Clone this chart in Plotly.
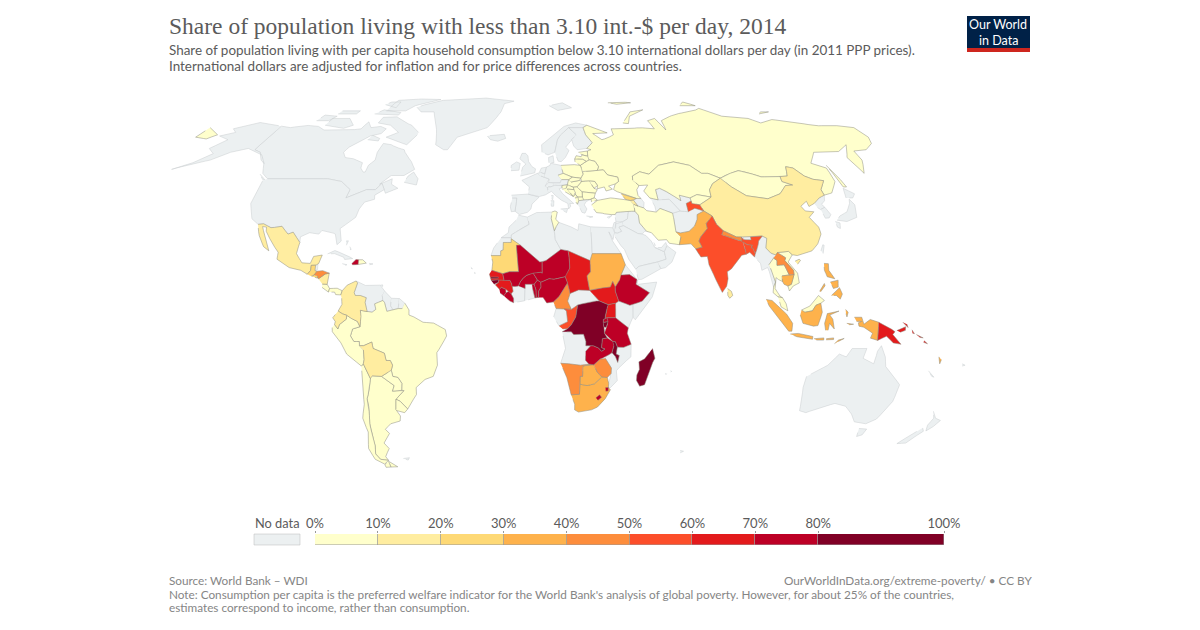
import plotly.graph_objects as go

# countries with a value, share below 3.10 int.-$ per day (read off the map colours, so estimates)
countries = ["Russia", "Kazakhstan", "Kyrgyzstan", "Mongolia", "Ukraine", "Belarus", "Poland", "Romania", "Bulgaria", "Moldova",
             "Estonia", "Latvia", "Lithuania", "Hungary", "Slovakia", "Czechia", "Serbia", "Croatia", "Bosnia", "Slovenia",
             "Montenegro", "Macedonia", "Albania", "Turkey", "Iran", "Brazil", "Argentina", "Chile", "Peru", "Uruguay",
             "Paraguay", "Costa Rica", "Panama", "Dominican Rep", "Tunisia", "Thailand", "Malaysia", "Vietnam",
             "Mexico", "Colombia", "Ecuador", "Bolivia", "China", "Sri Lanka", "Armenia", "Nicaragua",
             "Mauritania", "El Salvador", "Georgia", "Guatemala",
             "Pakistan", "Sudan", "South Africa", "Botswana", "Indonesia", "Philippines", "Cambodia", "Vanuatu", "Timor",
             "Namibia", "Zimbabwe", "Cameroon", "Laos", "Honduras", "Nepal",
             "India", "Bangladesh", "Congo",
             "Chad", "South Sudan", "Guinea", "Senegal", "Papua New Guinea", "Uganda", "Tajikistan", "Solomon Islands",
             "Mali", "Niger", "Burkina Faso", "Benin", "Togo", "Nigeria", "Ethiopia", "Tanzania", "Zambia", "Liberia",
             "Sierra Leone", "Haiti", "Lesotho", "Swaziland", "Rwanda",
             "DR Congo", "Madagascar", "Malawi", "Burundi", "Gambia", "Guinea-Bissau"]
share = [1, 3, 8, 5, 1, 1, 1, 7, 6, 4,
         1, 2, 2, 2, 2, 1, 2, 1, 1, 1,
         2, 8, 8, 4, 5, 8, 3, 2, 9, 2,
         7, 4, 8, 8, 8, 2, 2, 9,
         12, 15, 11, 13, 19, 14, 15, 19,
         25, 21, 28, 28,
         36, 37, 35, 36, 36, 37, 39, 38, 35,
         43, 44, 45, 46, 42, 48,
         58, 56, 55,
         64, 65, 66, 62, 63, 66, 58, 65,
         78, 74, 75, 75, 72, 77, 72, 76, 75, 78,
         74, 71, 78, 72, 78,
         90, 91, 88, 86, 84, 82]

bin_edges = [0, 10, 20, 30, 40, 50, 60, 70, 80, 100]
bin_colors = ["#ffffcc", "#ffeda0", "#fed976", "#feb24c", "#fd8d3c", "#fc4e2a", "#e31a1c", "#bd0026", "#800026"]
bin_labels = ["0%", "10%", "20%", "30%", "40%", "50%", "60%", "70%", "80%", "100%"]
no_data_color = "#ecf0f1"

title = "Share of population living with less than 3.10 int.-$ per day, 2014"
subtitle = ["Share of population living with per capita household consumption below 3.10 international dollars per day (in 2011 PPP prices).",
            "International dollars are adjusted for inflation and for price differences across countries."]
source = "Source: World Bank – WDI"
link = "OurWorldInData.org/extreme-poverty/ • CC BY"
note = ["Note: Consumption per capita is the preferred welfare indicator for the World Bank's analysis of global poverty. However, for about 25% of the countries,",
        "estimates correspond to income, rather than consumption."]

# Robinson table, every 5 degrees of latitude
rob_len = [1, 0.9986, 0.9954, 0.99, 0.9822, 0.973, 0.96, 0.9427, 0.9216, 0.8962, 0.8679, 0.835, 0.7986, 0.7597, 0.7186, 0.6732, 0.6213, 0.5722, 0.5322]
rob_dfe = [0, 0.062, 0.124, 0.186, 0.248, 0.31, 0.372, 0.434, 0.4958, 0.5571, 0.6176, 0.6769, 0.7346, 0.7903, 0.8435, 0.8936, 0.9394, 0.9761, 1]

# rough hand traced outlines, lon,lat
outlines = {
    "Canada": ["-141,69.6 -135,69 -128,70 -120,69.5 -115,68 -108,68 -100,68 -95,68.5 -94,71.5 -90,69 -85,69.5 -81,68.5 -82,66.5 -87,65.5 -90,63.5 -94,61 -95,59 -92.5,57 -88,56.5 -82.5,55 -82,53 -80,51.5 -79,51.5 -79,54 -77,56 -78,59 -77.5,62.5 -73,62 -70,61 -65,60 -64,59 -62,57.5 -59,55.5 -56,52.5 -60,50.2 -66,50.2 -70,47 -65,49 -64.5,47 -61,45.5 -66,43.7 -67,45 -69,47.3 -71,45 -75,45 -79,43.5 -83,42 -82.5,45 -88,48 -95,49 -123,49 -127,51 -130,54.5 -133,56.5 -137,59 -141,60",
               "-62,66 -65,62 -72,63.5 -78,65 -73,67 -80,70 -88,71 -88,73.5 -80,73.7 -72,71 -68,70 -62,67",
               "-117,70 -105,68.7 -101,70 -107,73 -117,73", "-90,76.5 -78,76.5 -75,79 -62,82.5 -72,83 -90,82",
               "-125,72 -118,72 -116,74 -124,74.5", "-95,75 -80,74.5 -80,75.7 -92,77", "-117,75 -106,75 -106,76.5 -117,76.5",
               "-59,47.7 -53,46.7 -53,49 -56,51.5 -58,50", "-87,64 -81,63.5 -81,64.5 -86,65.8", "-128,50.7 -123.5,48.4 -125,48.7",
               "-95,79.5 -86,78 -87,81 -93,81"],
    "USA": ["-124.7,48.3 -124,43 -124,40 -120.5,34.5 -117,32.5 -114.7,32.7 -111,31.3 -108,31.5 -106.5,31.8 -103,29 -101,29.7 -97.2,26 -97.5,28 -94,29.5 -90,29 -89,30.3 -85,29.7 -83,29 -81.5,25.2 -80,26.5 -81.5,31 -76,35 -75.5,38 -74,40.5 -70,41.5 -70.5,43 -67,45 -69,47.3 -71,45 -75,45 -79,43.5 -83,42 -82.5,45 -88,48 -95,49 -123,49",
            "-141,69.6 -141,60 -137,59 -133,56 -130,54.7 -135,58 -145,60.5 -152,59 -158,56 -165,54.5 -172,52.5 -165,55 -160,58.5 -165,60.5 -161,64 -168,65.5 -162,67 -166,68.5 -156,71.2"],
    "Mexico": ["-117,32.5 -114.7,32.7 -111,31.3 -108,31.5 -106.5,31.8 -103,29 -101,29.7 -97.2,26 -97.8,22 -95,18.7 -91.5,18.5 -90.5,21 -87,21.5 -88,18.5 -89,17.9 -91,17.8 -91,16 -92.2,14.6 -95,16 -100,17 -105.5,20 -105.5,22.5 -109,26 -112.5,30 -113,31.5 -114.7,31.7 -112,27.5 -109.5,23 -112,24.5 -115,28.5"],
    "Guatemala": ["-92.2,14.6 -91,16 -91,17.8 -89.2,17.8 -89.2,15.9 -88.3,15.7 -89.3,14.4 -90.5,13.9"],
    "Belize": ["-89.2,17.9 -88.3,18.4 -88.2,16.3 -89.2,15.9"],
    "El Salvador": ["-90.1,13.8 -89.3,14.4 -87.8,13.9 -87.8,13.2"],
    "Honduras": ["-89.3,14.4 -88.3,15.7 -86,15.9 -83.2,15 -84.8,14.7 -87.4,13 -87.8,13.4 -87.8,13.9"],
    "Nicaragua": ["-87.5,13 -84.8,14.7 -83.2,15 -83.7,11 -85.7,11.1"],
    "Costa Rica": ["-85.7,11.1 -83.7,11 -82.6,9.5 -83,8.2 -85.7,9.9"],
    "Panama": ["-83,8.2 -82.6,9.5 -79.5,9.6 -77.4,8.7 -77.9,7.2 -80,7.3 -80.5,8.2"],
    "Cuba": ["-84.9,21.9 -82,23.1 -77,21.5 -74.2,20.2 -77.5,19.9 -78,20.7 -82,22"],
    "Jamaica": ["-78.3,18.4 -76.3,18 -77,17.8"],
    "Haiti": ["-74.4,18.4 -72.8,19.9 -71.7,19.8 -71.7,18.1 -74,18"],
    "Dominican Rep": ["-71.7,19.8 -70,19.8 -68.4,18.6 -71,18 -71.7,18.1"],
    "Puerto Rico": ["-67.2,18.5 -65.6,18.3 -67,18"],
    "Bahamas": ["-78,26.5 -77,26.6 -77.5,25", "-76,24.5 -75.3,23.5 -75.8,23.4"],
    "Trinidad": ["-61.9,10.7 -61,10.8 -61,10.1"],
    "Colombia": ["-77.9,7.2 -77.4,8.7 -75.5,10.7 -72,12.2 -71.3,11.5 -72.5,8 -72,7 -70,7 -67.5,6.2 -67.9,4.5 -67,1.2 -69.8,1.7 -69.5,-0.5 -70,-4.2 -71,-2.3 -73.5,-1.2 -75.3,-0.1 -77,0.4 -78.8,1.4 -77.3,3.8 -77.5,6"],
    "Venezuela": ["-72,12.2 -68,10.6 -62,10.7 -60,8.5 -61,7 -60.7,5.2 -64,4 -63.5,2 -65,1 -67,1.2 -67.9,4.5 -67.5,6.2 -70,7 -72,7 -72.5,8 -71.3,11.5"],
    "Guyana": ["-60,8.5 -57.2,6 -57.5,3.3 -56.5,1.9 -59,1.3 -60,4.5 -60.7,5.2 -61,7"],
    "Suriname": ["-57.2,6 -54,5.9 -54.4,2.3 -56.5,1.9 -57.5,3.3"],
    "French Guiana": ["-54,5.9 -51.7,4.2 -52.7,2.3 -54.4,2.3"],
    "Ecuador": ["-78.8,1.4 -77,0.4 -75.3,-0.1 -75.5,-1.5 -78.3,-3.4 -79,-5 -80.3,-3.4 -80,-2.3 -81,-1"],
    "Peru": ["-80.3,-3.4 -79,-5 -78.3,-3.4 -75.5,-1.5 -75.3,-0.1 -73.5,-1.2 -71,-2.3 -70,-4.2 -73,-5 -74,-7.5 -72.7,-9.5 -70.5,-9.5 -70.5,-11 -69,-12.5 -69,-16 -69.5,-17.5 -70.4,-18.3 -76,-14 -78,-10 -81.3,-6 -81.3,-4.5"],
    "Bolivia": ["-70.5,-11 -68.8,-11 -65.4,-9.7 -65,-12 -60.5,-13.7 -60,-16.3 -58.3,-16.3 -57.5,-18 -58.2,-19.8 -62.5,-22 -66.3,-21.8 -67.2,-22.8 -68.5,-20 -69.5,-17.5 -69,-16 -69,-12.5"],
    "Paraguay": ["-58.2,-19.8 -57.8,-22 -55.7,-22.4 -54.3,-24.5 -54.7,-27 -58.6,-27.3 -57.6,-25.3 -62.5,-22"],
    "Uruguay": ["-58.4,-33.9 -57.6,-30.2 -56,-30.9 -53.3,-33.7 -54.9,-35 -58.4,-34.2"],
    "Argentina": ["-66.3,-21.8 -62.5,-22 -57.6,-25.3 -58.6,-27.3 -54.7,-27 -53.8,-27.1 -57.6,-30.2 -58.4,-33.9 -57,-36.2 -57.6,-38 -62,-39 -65,-41 -63.7,-42.5 -67.5,-46 -66,-48 -69,-51 -68.4,-52.4 -72,-52 -73.2,-50 -72,-47 -71.7,-44 -71.2,-39 -70.4,-36 -69.8,-33 -69.8,-30 -68.3,-27 -67.2,-22.8",
                  "-68.6,-52.7 -65.2,-54.8 -68.6,-54.9"],
    "Chile": ["-70.4,-18.3 -69.5,-17.5 -68.5,-20 -67.2,-22.8 -68.3,-27 -69.8,-30 -69.8,-33 -70.4,-36 -71.2,-39 -71.7,-44 -72,-47 -73.2,-50 -72,-52 -68.4,-52.4 -71,-53.8 -74.5,-52 -75.5,-48 -73,-42 -73.6,-37 -71.5,-32 -70.5,-25",
              "-68.6,-52.7 -68.6,-54.9 -71,-55 -71,-54"],
    "Brazil": ["-51.7,4.2 -50,1.8 -50,0 -48,-0.7 -44.3,-2.6 -40,-2.9 -35.3,-5.2 -34.8,-7.5 -37,-11 -39,-13.5 -39,-18 -41,-22 -44.5,-23.1 -48.5,-26 -48.7,-28.5 -53.3,-33.7 -56,-30.9 -57.6,-30.2 -53.8,-27.1 -54.7,-27 -54.3,-24.5 -55.7,-22.4 -57.8,-22 -58.2,-19.8 -57.5,-18 -58.3,-16.3 -60,-16.3 -60.5,-13.7 -65,-12 -65.4,-9.7 -68.8,-11 -70.5,-11 -70.5,-9.5 -72.7,-9.5 -74,-7.5 -73,-5 -70,-4.2 -69.5,-0.5 -69.8,1.7 -67,1.2 -65,1 -63.5,2 -64,4 -60.7,5.2 -60,4.5 -59,1.3 -56.5,1.9 -54.4,2.3 -52.7,2.3"],
    "Falklands": ["-61,-51.7 -58,-51.4 -59,-52.3"],
    "Greenland": ["-73,78.2 -68,76 -60,76 -54,70 -51,65 -50,62 -45,60 -43,60 -40,65 -25,69 -22,72 -19,76 -18,80 -12,81.5 -30,83.5 -45,82.5 -60,82 -68,80"],
    "Iceland": ["-24,65.5 -22,64 -18,63.4 -14,64.5 -15,66.2 -20,66"],
    "UK": ["-5.5,50 1.3,51.2 1.7,52.7 0,53.5 -1.7,55.5 -2,57.6 -3.2,58.6 -5,58.6 -6,56.5 -3,54.5 -4.5,53.3 -5,51.7"],
    "Ireland": ["-10,52 -6.2,52.2 -6,53.5 -5.7,54.7 -7.5,55.3 -10,54"],
    "Spain": ["-9.2,43 -1.8,43.4 3.2,42.3 0,39.8 -0.5,38 -2,36.8 -5.5,36 -7.4,37.2 -7,39.5 -6.8,41.9 -8.8,41.9"],
    "Portugal": ["-8.8,41.9 -6.8,41.9 -7,39.5 -7.4,37.2 -9,37 -9.5,38.8"],
    "France": ["-1.8,43.4 3.2,42.5 6,43.1 7.5,43.8 7,45.9 6,46.3 8,48.9 6,49.5 4.2,50 2.5,51 -1.5,49.5 -4.7,48.4 -1.2,46", "8.6,42.9 9.5,42.9 9.2,41.4 8.7,41.6"],
    "Belgium": ["2.5,51 4.2,51.4 6,50.7 6,49.5 4.2,50"],
    "Netherlands": ["3.5,51.4 4.5,53 7,53.3 6,50.8 4.2,51.4"],
    "Germany": ["6,50.7 7,53.4 8.7,54 9,54.8 14,54 14.7,51 12.2,50.3 13.7,48.7 13,47.5 9.6,47.5 7.6,47.6 8,48.9 6,49.5"],
    "Denmark": ["8.2,55 8.2,57 10.5,57.7 10.7,55"],
    "Switzerland": ["6,46.3 7.6,47.6 9.6,47.5 10.4,46.6 8.5,46"],
    "Austria": ["9.6,47.5 13,47.5 13.7,48.7 17,48.7 16.2,46.8 13.7,46.5 10.4,46.6"],
    "Italy": ["7.5,43.8 8.8,44.4 10.5,42.9 13,41.2 15.8,40 16,38 17,39 16.7,40 18.4,40 16,41.7 13.7,43.6 12.3,45.3 13.7,45.7 13.7,46.5 10.4,46.6 8.5,46 7,45.9",
              "12.5,38 15.6,38.2 15,36.7", "8.3,41 9.7,41 9.5,39 8.5,39"],
    "Norway": ["5,59 5,62 12,66 18,69.5 25,71 31,70 28.5,69 25,69 20.5,69 15.5,66 13.5,64 12.2,61 11.5,59 8,58", "11,79 16,76.7 25,78 20,80.5"],
    "Sweden": ["11.5,59 12.2,61 13.5,64 15.5,66 20.5,69 24,66 21,64 17.3,61 18.8,59.7 16.5,57 14.3,55.4 12.8,55.6"],
    "Finland": ["24,66 20.5,69 25,69 28.5,69 29,66 31.5,62.8 28,60.5 23,60 21.5,61.5 21,64"],
    "Poland": ["14,54 19,54.4 23.3,54 24,51.7 24,50.7 22.7,49.2 18.8,49.6 14.7,51"],
    "Czechia": ["12.2,50.3 14.7,51 18.8,49.6 17,48.7 13.7,48.7"],
    "Slovakia": ["17,48.7 18.8,49.6 22.7,49.2 22,48.4 18,47.8"],
    "Hungary": ["16.2,46.8 17,48.7 18,47.8 22,48.4 22.9,48 20.5,46 18.8,45.9"],
    "Slovenia": ["13.7,45.5 13.7,46.5 16.2,46.8 15.5,45.5"],
    "Croatia": ["13.7,45.2 15.5,45.5 16.2,46.8 18.8,45.9 19,45 16,45.2 18.5,42.5 15,44.2"],
    "Bosnia": ["16,45.2 19,45 19.5,44 18.5,42.5"],
    "Serbia": ["19,45 18.8,45.9 20.5,46 22.6,44.2 22.5,42.3 20.5,42.3 19.5,43.3 19.5,44"],
    "Montenegro": ["18.5,42.5 19.5,43.3 20.1,42.6 19.3,41.9"],
    "Macedonia": ["20.5,42.3 22.5,42.3 23,41.3 20.7,41"],
    "Albania": ["19.3,41.9 20.5,42.3 20.7,41 20,39.7 19.4,40.5"],
    "Greece": ["20,39.7 20.7,41 23,41.3 26.3,41.5 24,40.7 23,39.5 24,38 23,36.5 21.7,36.8 21,38.3", "23.5,35.5 26.3,35.2 24.8,34.9"],
    "Bulgaria": ["22.5,42.3 22.6,44.2 28.5,43.7 27.7,42 26.3,41.5 23,41.3"],
    "Romania": ["20.5,46 22.9,48 26.6,48.2 28.2,45.5 29.6,45 28.5,43.7 22.6,44.2"],
    "Moldova": ["26.6,48.2 29,48 30,46.5 28.2,45.5"],
    "Ukraine": ["24,51.7 24,50.7 22.7,49.2 22.9,48 26.6,48.2 29,48 30,46.5 29.6,45.3 33,46 33.5,44.5 36.5,45.2 35,46.3 38.2,47.1 40,48 40,49.6 35.5,50.4 34,52.3 31,52.1"],
    "Belarus": ["24,51.7 31,52.1 32,53.5 30.8,55.5 28,56.1 26.5,55.5 23.3,54"],
    "Lithuania": ["21,55.3 21,56.4 25,56.3 26.5,55.5 23.3,54"],
    "Latvia": ["21,56.4 22,57.7 24.4,57.3 25,58 27.7,57.5 28,56.1 26.5,55.5 25,56.3"],
    "Estonia": ["23.4,59 28,59.5 27.7,57.5 25,58 24.4,58.3"],
    "Turkey": ["26.2,39.5 29,41.1 35,42 41.5,41.5 43.6,41.1 44.8,39.7 44.8,37.2 42,37.2 36.7,36.8 36,36 32.5,36 30.5,36.5 28,36.7 27,38", "26.3,40.5 26.3,41.7 28,42 29,41.2"],
    "Georgia": ["40,43.5 43.6,42.7 46.5,41.8 45,41.3 43.6,41.1 41.5,41.5"],
    "Armenia": ["43.6,41.1 45,41.3 46.5,39 44.8,39.7"],
    "Azerbaijan": ["45,41.3 46.5,41.8 48.5,41.8 49.5,40.3 48.9,38.4 46.5,39"],
    "Cyprus": ["32.3,35 34.6,35.7 33,34.6"],
    "Syria": ["36,36 36.7,36.8 42,37.2 41,34.4 38.8,33.4 36,33.3 35.9,35"],
    "Israel": ["34.3,31.3 35.1,33.1 36,33.3 35.8,32.7 35.5,31 34.9,29.5"],
    "Jordan": ["35.5,31 35.8,32.7 38.8,33.4 39,32 37,31.5 38,30 36,29.3 34.9,29.5"],
    "Iraq": ["38.8,33.4 41,34.4 42,37.2 44.8,37.2 46,35.8 46,33 48.5,30 47.7,30 46.5,29 44.7,29.2 39,32"],
    "Saudi Arabia": ["34.9,29.5 36,29.3 38,30 37,31.5 39,32 44.7,29.2 46.5,29 48,28.5 50,26.5 51.2,24.2 55,22.7 55.5,20 52,19 49,18.5 44,17.4 43,16.7 42.7,16.4 40,20 38.5,23.5 37,25 35,28"],
    "Yemen": ["42.7,16.4 43,16.7 44,17.4 49,18.5 52,19 53,16.6 45,12.8 43.5,12.7"],
    "Oman": ["52,19 55.5,20 55,22.7 56.3,24.9 59.8,22.5 57.8,19 55,17 53,16.6"],
    "UAE": ["51.2,24.2 55,22.7 56.3,24.9 56,26 54,24.2"],
    "Qatar": ["51,26 51.5,25 51,24.6"],
    "Iran": ["44.8,39.7 46.5,39 48.9,38.4 50,37.4 54,36.9 56,38.2 61,36.5 61,31.5 60.9,29.8 62.7,28 61.6,25.2 57.5,25.7 56.5,27 53,26.8 50.5,29.5 48.5,30 46,33 46,35.8 44.8,37.2"],
    "Afghanistan": ["61,36.5 64.5,37.3 68,37 71.2,38.3 74.8,37.3 71.5,36 71,34.3 69.3,31.9 66.5,30 62.7,29.4 60.9,29.8 61,31.5"],
    "Pakistan": ["60.9,29.8 62.7,29.4 66.5,30 69.3,31.9 71,34.3 71.5,36 74.8,37.3 77.8,35.5 74.5,32.8 74.5,31 71,28 70,26.5 71,24.3 68.2,23.7 66.5,25.5 61.6,25.2 62.7,28"],
    "India": ["77.8,35.5 78.8,32.5 81,30.2 80,28.8 84,27.4 88,26.4 88.2,27.9 89,27 92,26.9 92,28 97,28.3 95,26.5 94,24 92.7,22 92,24 91.3,24 92,25 90,25.2 88.3,26.2 88.7,24.3 89,21.8 87,21.4 85,19.5 82,16.5 80.2,15.5 80.3,13 79.5,10.3 77.6,8.1 76,11 73,18 72.7,21 70,20.8 69,22.3 68.2,23.7 71,24.3 70,26.5 71,28 74.5,31 74.5,32.8"],
    "Bangladesh": ["88.3,26.2 90,25.2 92,25 91.3,24 92,24 92.7,22 92.2,20.8 90.5,22.5 89,21.8 88.7,24.3"],
    "Nepal": ["80,28.8 81,30.2 86,28 88.2,27.9 88,26.4 84,27.4"],
    "Bhutan": ["89,27 89,28 92,28 92,26.9"],
    "Sri Lanka": ["79.8,9.5 81.3,8.5 81.8,7 80.5,6 79.8,7"],
    "China": ["73.8,39.5 76,40.4 80,42.3 80.5,45 83,47.2 87.7,49.2 91,46 96,42.8 105,41.7 111.5,43.5 116,46.5 119.5,46.7 115.5,48 116,49.8 119.5,50 122,53.5 125,53 127.5,50 130.5,48.8 135,48.3 131,45 131,43 128,42 124.4,40 121.5,38.9 121.5,40.8 118,39 119,37.3 122.6,37 119.5,35 122,31.5 122,29 119.5,25.5 116.5,23 113.5,22.2 110,21.3 108,21.6 106.7,22.8 102,22.4 101.2,21.5 99.2,22.2 97.5,24 98.7,27.5 97,28.3 92,28 89,28 88.2,27.9 86,28 81,30.2 78.8,32.5 77.8,35.5 74.8,37.3",
              "108.7,19.3 110.5,20 111,19.6 109.6,18.2"],
    "Taiwan": ["120.2,23 121.5,25.2 122,25 120.9,22"],
    "Mongolia": ["87.7,49.2 92,50.7 98,52 102,51.3 107,49.7 113,49.7 116,49.8 115.5,48 119.5,46.7 116,46.5 111.5,43.5 105,41.7 96,42.8 91,46"],
    "Kazakhstan": ["46.7,48.5 47,50 51,51.6 55,50.7 61,54 69,55.3 76,54 80,51 83,51 87.7,49.2 83,47.2 80.5,45 80,42.3 74,43.2 70.5,42 66,43 66,41 62,43.7 58,45.5 56,45 56,41.3 52.5,42 50.5,44.5 53,46.7 49,46.5"],
    "Kyrgyzstan": ["70.5,40 70.5,42 74,43.2 80,42.3 76,40.4 73.8,39.5"],
    "Tajikistan": ["68,37 68,40 70.5,40.9 70.5,40 73.8,39.5 74.8,37.3 71.2,38.3"],
    "Uzbekistan": ["56,41.3 56,45 58,45.5 62,43.7 66,41 66,43 70.5,42 70.5,40.9 68,40 68,37 64.5,37.3 61,41.5"],
    "Turkmenistan": ["52.8,41.7 52.5,42 56,41.3 61,41.5 64.5,37.3 61,36.5 56,38.2 54,36.9 53.9,39"],
    "Russia": ["27.7,57.5 28,59.5 30,60 28,60.5 31.5,62.8 29,66 28.5,69 31,70 41,66.8 33,66.5 37,64 40,64.6 44,66 44,68.5 54,68.5 60,69 68,68.5 67,72 72,73 74,68 75,72 80,73.5 87,75 100,76.5 105,77.7 113,74 127,73 131,71 140,72.5 150,71.5 160,69.7 170,70 179.9,69 179.9,65 177,62.5 170,60 163,59.5 162,56 156.7,51 156,57 163,62 155,59.3 142,59 135.5,54.8 141,53 140,48 135,43.8 131,43 131,45 135,48.3 130.5,48.8 127.5,50 125,53 122,53.5 119.5,50 116,49.8 113,49.7 107,49.7 102,51.3 98,52 92,50.7 87.7,49.2 83,51 80,51 76,54 69,55.3 61,54 55,50.7 51,51.6 47,50 46.7,48.5 49,46.5 47.5,45 47.5,42.9 48.5,41.8 46.5,41.8 43.6,42.7 40,43.5 37,45 38.2,47.1 40,48 40,49.6 35.5,50.4 34,52.3 31,52.1 32,53.5 30.8,55.5 28,56.1",
               "-179.9,69 -175,67.5 -170,66 -173,64.3 -179.9,65", "142,54 143,50 143.5,46 142,46 142,50", "52,71 55,70.7 58,74 69,77 60,76", "137,75 145,76 140,76",
               "50,80.5 60,81 65,80.5 55,79.7", "95,79 105,79 100,81"],
    "Japan": ["131,34 135,33.5 140,35 142,39.5 141,41.5 140,40 137,37 133,35.5", "130,33.5 131.8,33 131,31 130,31.5", "140,42 141.5,45.5 145,43.5 143,42"],
    "North Korea": ["124.4,40 128,42 131,43 129.7,41 127.5,39.7 128.3,38.6 126,37.8 125,38.5"],
    "South Korea": ["126,37.8 128.3,38.6 129.4,36 128,34.8 126.3,34.7"],
    "Myanmar": ["92.2,20.8 92.7,22 94,24 95,26.5 97,28.3 98.7,27.5 97.5,24 99.2,22.2 101.2,21.5 100,20.4 97.7,18 98.7,15.5 99.6,11.8 98.6,10 98,14 97,17 94.5,16 94.3,18.5"],
    "Thailand": ["97.7,18 100,20.4 101.3,19.5 101,17.8 104,18 105.5,14.4 102.5,14 102.5,12 100.9,12.7 100,13.4 99.2,9.5 101,6.8 102,6.2 100.2,6.5 98.3,8 98.6,10 99.6,11.8 98.7,15.5"],
    "Laos": ["101.2,21.5 102,22.4 105,20.5 104.5,19.5 107.5,16 107.5,14.5 105.5,14.4 104,18 101,17.8 101.3,19.5 100,20.4"],
    "Vietnam": ["102,22.4 106.7,22.8 108,21.6 105.8,19 109,15 109.3,11.5 106.7,10.4 105,8.6 104.5,10.4 106,11 107.5,14.5 107.5,16 104.5,19.5 105,20.5"],
    "Cambodia": ["102.5,14 105.5,14.4 107.5,14.5 106,11 104.5,10.4 103,11 102.5,12"],
    "Malaysia": ["100.2,6.5 102,6.2 103.4,4 104,1.5 101.3,2.9", "109.6,1.8 113,3.2 116.7,7 119,5.2 117.5,4.2 115.5,3.5 114,1.5 111,1"],
    "Indonesia": ["109.6,1.8 111,1 114,1.5 115.5,3.5 117.5,4.2 118,1 116.3,-3.8 114.5,-4 110.2,-3 109,0",
                  "95.3,5.6 97.7,5.2 103.5,0.3 106,-3 105.8,-5.8 104.5,-5.8 100.5,-1.5 96.5,3.2",
                  "105.2,-6.8 108.5,-6.6 114.5,-7.7 114.4,-8.7 108,-7.8",
                  "119.5,-5.5 119,-3 120,0.5 124.8,1.4 121,0 122.3,-1.5 123,-5 121,-3 120.5,-5.5",
                  "115,-8.5 119,-8.2 119,-9 116,-9", "120,-8.5 123,-8.2 123,-8.8 120,-8.9",
                  "128,-3 130.8,-3.3 129,-3.5", "127.5,2 128.5,1 128,-0.7 127.6,0.5",
                  "131,-0.8 134,-0.8 135,-3.3 137.5,-1.6 141,-2.6 141,-9.1 138,-8.3 138.7,-6.5 135,-4.4 133,-4 132.7,-2.8 134,-2.3 132,-2.3"],
    "Timor": ["123.5,-10.3 125,-9 127.3,-8.4 125,-9.5"],
    "Papua New Guinea": ["141,-2.6 145,-4.3 147.8,-6 147,-7 150.7,-10.5 147.5,-10 144.5,-7.6 141,-9.1", "148.5,-5.6 152,-4.2 152,-5.5 150,-6.2", "150.8,-2.6 153,-4.5 152.5,-3.3", "154.6,-5.3 155.8,-6.7 155,-6.5"],
    "Solomon Islands": ["156.6,-7 159.5,-8.2 158,-8", "160,-9.2 161.5,-10.3 159.8,-9.8"],
    "Vanuatu": ["167,-15 167.5,-16.5 168,-17.5 168.3,-16"],
    "New Caledonia": ["164,-20 167,-22.3 166,-22"],
    "Fiji": ["177.3,-17.5 178.6,-18 177.5,-18.3"],
    "Philippines": ["120.5,18.5 122.3,18.4 122,16 124,13 121,13.7 120.2,16", "122,7 125.5,9.8 126.5,7.5 125.5,5.7 124,7", "122,11.8 125.3,12.5 125,10 123,9.5", "117.3,8.5 119.5,11.3 119.7,10.5 117.7,8.3"],
    "Australia": ["114,-22 113.5,-26 115,-34.3 118,-35 124,-33 129,-31.7 134,-32.7 138,-35.5 141,-38.3 146.5,-39 150,-37.3 153.2,-31 153.5,-25 149,-21 146,-18.5 145,-15 142.8,-11 141.5,-13 140.8,-17.5 136,-15.5 137,-12 131,-12 129,-15 126,-14 122,-18", "144.7,-40.7 148.3,-40.9 148,-43 146,-43.6"],
    "New Zealand": ["172.7,-34.5 175.5,-37 178.3,-37.8 176.9,-40 175.2,-41.6 174,-39.5 174.7,-37", "172.7,-40.5 174.2,-41.7 171,-45 170.5,-46 166.7,-46.2 168.5,-44.3"],
    "Morocco": ["-5.9,35.8 -2,35.1 -1.2,32.5 -3.5,31.5 -8.7,28.7 -8.7,27.7 -13,27.7 -10,29.5 -9.8,31.5 -6.8,34"],
    "Western Sahara": ["-13,27.7 -8.7,27.7 -8.7,26 -12,26 -12,23.3 -13,23 -13,21.3 -17,21.3 -16,24"],
    "Algeria": ["-2,35.1 2,36.7 8.6,36.9 8.3,34.5 9.5,30.2 9.8,27 12,23.5 5.8,19.5 3.2,19 -4.8,25 -8.7,27.3 -8.7,28.7 -3.5,31.5 -1.2,32.5"],
    "Tunisia": ["8.6,36.9 10,37.3 11,36.9 10.2,34.3 11.5,33.2 10.3,31.7 9.5,30.2 8.3,34.5"],
    "Libya": ["11.5,33.2 15,32.3 19.5,30.3 20,32.7 25,31.6 25,22 24,19.5 15,23 12,23.5 9.8,27 9.5,30.2 10.3,31.7"],
    "Egypt": ["25,31.6 31,31.5 34.3,31.3 34.9,29.5 34,27 33.5,28 32.5,29.8 33.8,26.5 37,22 25,22"],
    "Mauritania": ["-17,21.3 -13,21.3 -13,23 -12,23.3 -12,26 -8.7,26 -8.7,27.3 -4.8,25 -6.5,25 -5.5,15.5 -9.3,15.5 -12,14.8 -16.5,16 -16.2,19"],
    "Mali": ["-4.8,25 3.2,19 4.2,19.1 4.2,15 3.5,15.3 0.5,15 -2.2,14.2 -3.5,13.3 -4.7,12 -5.5,10.4 -7,10.2 -8.2,10.3 -8.3,11.2 -9,12.4 -11.4,12.4 -12,14.8 -9.3,15.5 -5.5,15.5 -6.5,25"],
    "Senegal": ["-16.5,16 -12,14.8 -11.4,12.4 -13.7,12.6 -16.7,12.4 -17.5,14.7"],
    "Gambia": ["-16.8,13.6 -13.8,13.6 -13.8,13.2 -16.8,13.1"],
    "Guinea-Bissau": ["-16.7,12.4 -13.7,12.6 -13.7,11.7 -15.5,11"],
    "Guinea": ["-13.7,12.6 -11.4,12.4 -9,12.4 -8.3,11.2 -8.2,10.3 -7.7,8.5 -8.5,7.6 -9.5,8.5 -10.7,9.2 -12.5,9.9 -13.3,9.2 -15,10.8 -13.7,11.7"],
    "Sierra Leone": ["-13.3,9.2 -12.5,9.9 -10.7,9.2 -10.6,8 -11.5,6.9 -13,7.9"],
    "Liberia": ["-11.5,6.9 -10.6,8 -9.5,8.5 -8.5,7.6 -7.5,5.9 -7.5,4.4 -9,5"],
    "Cote d'Ivoire": ["-7.5,4.4 -7.5,5.9 -8.5,7.6 -7.7,8.5 -8.2,10.3 -7,10.2 -5.5,10.4 -2.8,9.5 -3,5.1"],
    "Burkina Faso": ["-5.5,10.4 -4.7,12 -3.5,13.3 -2.2,14.2 0.5,15 2.2,12.5 0.9,11 -2.8,11 -2.8,9.5"],
    "Ghana": ["-3,5.1 -2.8,9.5 -2.8,11 0,11 0.5,8 1.2,6.1"],
    "Togo": ["0,11 0.9,11 1.6,9 1.7,6.2 1.2,6.1 0.5,8"],
    "Benin": ["0.9,11 2.2,12.5 3.6,11.7 3.7,10 2.7,8.5 2.7,6.3 1.7,6.2 1.6,9"],
    "Niger": ["0.5,15 3.5,15.3 4.2,15 4.2,19.1 5.8,19.5 12,23.5 15,23 15.5,20 15.5,16.8 13.5,14 13.6,13.7 9,12.8 7,13 3.6,11.7 2.2,12.5"],
    "Nigeria": ["2.7,6.3 2.7,8.5 3.7,10 3.6,11.7 7,13 9,12.8 13.6,13.7 14.5,11.5 12,8 11,6.6 8.7,4.7 6,4.3 4.5,6.3"],
    "Chad": ["15,23 24,19.5 24,15.5 22.5,14 23.5,8.8 19,9 15.5,7.7 15,10 14.5,11.5 13.6,13.7 13.5,14 15.5,16.8 15.5,20"],
    "Cameroon": ["8.7,4.7 11,6.6 12,8 14.5,11.5 15,10 15.5,7.7 14.5,5 16,2 13,2.2 9.8,2.3"],
    "CAR": ["14.5,5 15.5,7.7 19,9 23.5,8.8 27.4,5 25,5 18.6,3.6 16,2"],
    "Sudan": ["24,19.5 25,22 37,22 38.5,18 36.5,14.3 36,12.7 34,10 33,12 32,10 27,9.5 23.5,8.8 22.5,14 24,15.5"],
    "South Sudan": ["23.5,8.8 27,9.5 32,10 33,12 34,10 34,8.5 35.3,5 34,4.2 31,3.7 27.4,5"],
    "Eritrea": ["36.5,14.3 38.5,18 43,12.7 40,14.5"],
    "Djibouti": ["41.8,11 43.3,12.5 43,11"],
    "Ethiopia": ["36.5,14.3 40,14.5 43,12.7 42.5,11 47.9,8 44.9,5 41.8,4 39.8,3.5 35.3,5 34,8.5 34,10 36,12.7"],
    "Somalia": ["43.3,11 51,11.8 49,6.5 42,-1.7 41,-0.8 41,3.7 41.8,4 44.9,5 47.9,8 42.5,11"],
    "Kenya": ["34,4.2 35.3,5 39.8,3.5 41,3.7 41,-0.8 39.2,-4.6 34,-1 34,0.5"],
    "Uganda": ["31,3.7 34,4.2 34,0.5 34,-1 30.5,-1 29.7,-1.3 30,1"],
    "Tanzania": ["30.5,-1 34,-1 39.2,-4.6 38.8,-6.5 39.5,-8 40.5,-10.5 37.5,-11.6 34.9,-11.5 34,-9.6 33,-9.5 29.5,-6.5 30.7,-3.3"],
    "Rwanda": ["29,-1.6 30.5,-1 30.9,-2.4 29,-2.7"],
    "Burundi": ["29,-2.7 30.9,-2.4 30.2,-4.4 29.4,-4.4"],
    "Gabon": ["8.8,-0.7 9.8,2.3 13,2.2 14,1.4 14.5,-2.4 11,-3.9"],
    "Congo": ["11,-3.9 14.5,-2.4 14,1.4 13,2.2 16,2 18.6,3.6 17.8,-0.7 16,-3.5 14.5,-4.9 12.5,-5"],
    "DR Congo": ["12.3,-6 14.5,-4.9 16,-3.5 17.8,-0.7 18.6,3.6 25,5 27.4,5 31,3.7 30,1 29.7,-1.3 29,-1.6 29,-2.7 29.4,-4.4 29.5,-6.5 30.7,-8.2 28.7,-8.5 28.4,-11.7 29.8,-12.2 28.5,-13 27.2,-11.8 25,-11 22,-11 22,-9.5 21,-6.9 17,-7 16,-6"],
    "Angola": ["12.3,-6 16,-6 17,-7 21,-6.9 22,-9.5 22,-11 24,-11 22,-13 22,-16.2 23.4,-17.6 20,-18 13.5,-17.3 11.8,-17.3 13.7,-12 13,-9"],
    "Zambia": ["22,-13 24,-11 25,-11 27.2,-11.8 28.5,-13 29.8,-12.2 28.4,-11.7 28.7,-8.5 30.7,-8.2 33,-9.5 33.5,-11 32.8,-13.5 30.2,-15 28,-15.8 25.5,-17.8 23.4,-17.6 22,-16.2"],
    "Malawi": ["33,-9.5 34,-9.6 34.9,-11.5 34.5,-14 35.8,-14.5 35.3,-17 34.3,-15 32.8,-13.5 33.5,-11"],
    "Mozambique": ["34.9,-11.5 37.5,-11.6 40.5,-10.5 40.6,-15 37,-17.8 34.9,-20 35.5,-23.5 32.9,-26 32,-26 32,-24.5 32.8,-21 32.8,-19 30.2,-15.6 30.2,-15 32.8,-13.5 34.3,-15 35.3,-17 35.8,-14.5 34.5,-14"],
    "Zimbabwe": ["25.5,-17.8 28,-15.8 30.2,-15.6 32.8,-19 32.8,-21 31.3,-22.4 29,-22.2 27,-20.5"],
    "Botswana": ["21,-18.3 23.4,-17.8 25.5,-17.8 27,-20.5 29,-22.2 26,-24.7 23,-25.3 20,-24.8 20,-22 21,-22"],
    "Namibia": ["11.8,-17.3 13.5,-17.3 20,-18 23.4,-17.6 25.5,-17.8 23.4,-17.8 21,-18.3 21,-22 20,-22 20,-28.4 16.5,-28.6 14.5,-22.5"],
    "South Africa": ["16.5,-28.6 20,-28.4 20,-24.8 23,-25.3 26,-24.7 29,-22.2 31.3,-22.4 32,-24.5 32,-26 32.9,-26.8 31,-30 28,-33 25.5,-34 20,-34.8 18.3,-34 18.2,-32"],
    "Lesotho": ["27,-29.7 28.5,-28.6 29.4,-29.5 28,-30.6"],
    "Swaziland": ["30.8,-26 32,-26 32,-27.2 31,-27.3"],
    "Madagascar": ["49.3,-12 50.5,-15.5 49.7,-17 48,-22 47,-25 45,-25.5 43.5,-23.5 43.5,-21.5 44.4,-19.5 44,-16.8 46.3,-15.7 48,-13.6"],
    "Cape Verde": ["-25.2,17.1 -24.5,16.6 -25,16.7", "-23.7,15.3 -23.2,15 -23.7,14.9"],
    "Mauritius": ["57.3,-20 57.8,-20.2 57.5,-20.5"],
    "Reunion": ["55.2,-21 55.8,-21.1 55.5,-21.4"],
    "Kerguelen": ["68.8,-48.7 70.5,-49 69.2,-49.6"],
}


def robinson(lon, lat):
    a = min(abs(lat), 89.999) / 5
    i = int(a)
    t = a - i
    length = rob_len[i] + (rob_len[i + 1] - rob_len[i]) * t
    dfe = rob_dfe[i] + (rob_dfe[i + 1] - rob_dfe[i]) * t
    y = 1.3523 * dfe
    return 0.8487 * length * lon * 3.14159265 / 180, y if lat >= 0 else -y


def project(rings):
    xs, ys = [], []
    for text in rings:
        pts = [[float(v) for v in p.split(",")] for p in text.split()]
        pts.append(pts[0])
        # small steps so long borders follow the curved parallels
        for a, b in zip(pts[:-1], pts[1:]):
            steps = int(max(abs(b[0] - a[0]), abs(b[1] - a[1])) // 2) + 1
            for i in range(steps):
                x, y = robinson(a[0] + (b[0] - a[0]) * i / steps, a[1] + (b[1] - a[1]) * i / steps)
                xs.append(x)
                ys.append(y)
        xs.append(None)
        ys.append(None)
    return xs, ys


def bin_color(v):
    for i, c in enumerate(bin_colors):
        if v < bin_edges[i + 1]:
            return c
    return bin_colors[-1]


fig = go.Figure()
no_data = [n for n in outlines if n not in countries]
for name in no_data:
    xs, ys = project(outlines[name])
    fig.add_trace(go.Scatter(x=xs, y=ys, mode="lines", fill="toself", fillcolor=no_data_color, name=name,
                             line=dict(color="#c9cdcf", width=0.5), hoverinfo="name"))
for name, v in zip(countries, share):
    xs, ys = project(outlines[name])
    fig.add_trace(go.Scatter(x=xs, y=ys, mode="lines", fill="toself", fillcolor=bin_color(v), name=name,
                             line=dict(color="#8c8c80", width=0.5), hoverinfo="name"))

# legend as a stacked bar on its own axis
for i, c in enumerate(bin_colors):
    fig.add_trace(go.Bar(x=[bin_edges[i + 1] - bin_edges[i]], y=[0], orientation="h", xaxis="x2", yaxis="y2",
                         marker=dict(color=c, line=dict(color="#999999", width=0.5)), hoverinfo="skip"))

W, H = 1200, 630
MAP_LEFT, MAP_RIGHT, MAP_TOP, MAP_BOTTOM = 89, 975, 90, 540


def px(x):
    return x / W


def py(y):
    return 1 - y / H


grey = "#5b5b5b"
lato = "Lato"
texts = [(167, 26, title, "Liberation Serif", 23.5, grey, "left"),
         (167, 50, subtitle[0], lato, 13.45, grey, "left"),
         (167, 66, subtitle[1], lato, 13.45, grey, "left"),
         (167, 580, source, lato, 11.75, "#858585", "left"),
         (1034, 580, link, lato, 11.75, "#858585", "right"),
         (167, 594, note[0], lato, 11.75, "#858585", "left"),
         (167, 607, note[1], lato, 11.75, "#858585", "left"),
         (277, 523, "No data", lato, 12.8, grey, "center"),
         (998, 25, "Our World", lato, 12.5, "white", "center"),
         (998, 40, "in Data", lato, 12.5, "white", "center")]
annotations = [dict(x=px(x), y=py(y), xref="paper", yref="paper", text=t, showarrow=False, xanchor=anchor, yanchor="middle",
                    font=dict(family=fam, size=size, color=col)) for x, y, t, fam, size, col, anchor in texts]

shapes = [dict(type="rect", xref="paper", yref="paper", x0=px(254), x1=px(300), y0=py(545), y1=py(534),
               fillcolor=no_data_color, line=dict(color="#bbbbbb", width=0.5)),
          dict(type="rect", xref="paper", yref="paper", x0=px(967), x1=px(1030), y0=py(52), y1=py(16),
               fillcolor="#002147", line=dict(width=0)),
          dict(type="rect", xref="paper", yref="paper", x0=px(967), x1=px(1030), y0=py(52), y1=py(48),
               fillcolor="#ce261e", line=dict(width=0))]

fig.update_layout(
    width=W, height=H, margin=dict(l=0, r=0, t=0, b=0, autoexpand=False), paper_bgcolor="white", plot_bgcolor="rgba(0,0,0,0)",
    barmode="stack", bargap=0, showlegend=False,
    xaxis=dict(domain=[px(MAP_LEFT), px(MAP_RIGHT)], range=[-2.6663, 2.6663], visible=False, fixedrange=True),
    yaxis=dict(domain=[py(MAP_BOTTOM), py(MAP_TOP)], range=[-1.3523, 1.3523], visible=False, fixedrange=True),
    xaxis2=dict(domain=[px(315), px(944)], anchor="y2", range=[0, 100], side="top", tickvals=bin_edges, ticktext=bin_labels,
                ticks="outside", ticklen=2, tickcolor="#999999", tickfont=dict(family=lato, size=13, color=grey),
                ticklabelstandoff=-2, showgrid=False, zeroline=False, showline=False, fixedrange=True),
    yaxis2=dict(domain=[py(545), py(534)], anchor="x2", visible=False, fixedrange=True),
    annotations=annotations, shapes=shapes,
)

fig.write_html("out.html", config=dict(displayModeBar=False), post_script="document.body.style.margin='0';")
